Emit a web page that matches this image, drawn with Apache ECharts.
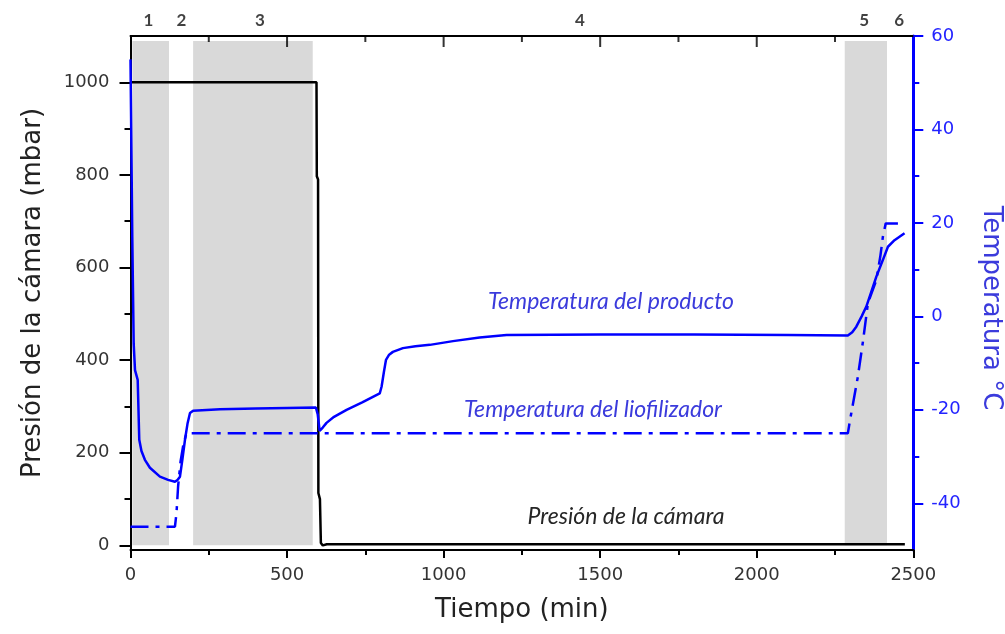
<!DOCTYPE html>
<html><head><meta charset="utf-8">
<script src="https://cdn.jsdelivr.net/npm/echarts@6/dist/echarts.min.js"></script>
<style>html,body{margin:0;padding:0;background:#fff}#c{width:1005px;height:634px}</style>
</head><body><div id="c"></div>
<script>
// ---- data ----
const pressureTime  = [0, 594, 595, 599, 600, 605, 608, 614, 627, 2473];
const pressureValue = [1000, 1000, 797, 790, 113, 100, 5, 0, 2.5, 2.5];

const productTime = [0, 1.6, 5.7, 10.2, 14.4, 23, 28, 35, 46, 62, 94, 120, 142, 150, 158, 166, 174, 182, 190, 200, 286, 400, 500, 592, 598, 604, 608, 614, 626, 650, 690, 740, 796, 802, 809, 816, 826, 838, 870, 910, 956, 1030, 1115, 1201, 1500, 1800, 2100, 2291, 2305, 2318, 2335, 2350, 2366, 2382, 2403, 2419, 2440, 2472];
const productTemp = [55, 55.3, 17, -5.9, -11.5, -13.6, -26.4, -28.8, -30.7, -32.4, -34.3, -35.0, -35.4, -35.0, -34.3, -30.5, -26.4, -23, -20.7, -20.2, -19.9, -19.7, -19.6, -19.5, -21, -24.5, -24.7, -23.8, -22.8, -21.5, -20.0, -18.4, -16.5, -15.0, -12, -9.3, -8.2, -7.6, -6.8, -6.4, -6.1, -5.3, -4.5, -4.0, -3.9, -3.9, -4.0, -4.1, -3.4, -2.2, 0, 2.1, 5.3, 8.5, 12.1, 14.9, 16.3, 17.8];

const condenserTime = [0, 142, 147, 152, 160, 170, 179, 2291, 2296, 2302, 2312, 2323, 2340, 2355, 2382, 2395, 2403, 2412, 2472];
const condenserTemp = [-45, -45, -42, -36.4, -31, -27, -25, -25, -23, -20.7, -17, -12.9, -5, 2.8, 7.8, 13, 17.1, 19.9, 19.9];

const shadedPhases   = [[6, 123], [200, 582], [2281, 2416]];
const phaseNames     = ['1', '2', '3', '4', '5', '6'];
const phaseLabelTime = [57, 163, 413, 1435, 2343, 2455];

const topMajorTicks   = [500, 1000, 1500, 2000];
const topMinorTicks   = [250, 750, 1250, 1750, 2250];
const leftTicks       = [0, 200, 400, 600, 800, 1000];
const leftMinorTicks  = [100, 300, 500, 700, 900];
const rightTicks      = [-40, -20, 0, 20, 40, 60];
const rightMinorTicks = [-30, -10, 10, 30, 50];

// ---- chart ----
const zip = (a, b) => a.map((v, i) => [v, b[i]]);
const FONT = 'DejaVu Sans';
const BLUE = '#0000ff';
const LEFT_MAX = 1100;
const plain = v => String(v);
const chart = echarts.init(document.getElementById('c'), null, {renderer: 'canvas'});

// inward ticks hanging from the top frame (small rect symbols placed on the frame)
const topTickSeries = (ticks, len) => ({
  type: 'scatter', xAxisIndex: 1, yAxisIndex: 0, silent: true, clip: false, z: 6,
  symbol: 'rect', symbolSize: [2, len], symbolOffset: [0, len / 2],
  itemStyle: {color: '#000'},
  data: ticks.map(t => [t, LEFT_MAX])
});

const option = {
  animation: false,
  backgroundColor: '#ffffff',
  grid: {left: 130.5, right: 91.7, top: 36, bottom: 84, containLabel: false, outerBoundsMode: 'none'},
  xAxis: [
    {
      type: 'value', position: 'bottom', min: 0, max: 2500, interval: 500,
      axisLine: {onZero: false, lineStyle: {color: '#000', width: 2}},
      axisTick: {show: true, length: 8, lineStyle: {color: '#000', width: 2}},
      minorTick: {show: true, splitNumber: 2, length: 5, lineStyle: {color: '#000', width: 2}},
      splitLine: {show: false},
      axisLabel: {formatter: plain, fontFamily: FONT, fontSize: 18, color: '#333', margin: 16},
      name: 'Tiempo (min)', nameLocation: 'middle', nameGap: 47,
      nameTextStyle: {fontFamily: FONT, fontSize: 26, color: '#222'}
    },
    {
      type: 'value', position: 'top', min: 0, max: 2500,
      axisLine: {show: true, onZero: false, lineStyle: {color: '#000', width: 2}},
      axisTick: {show: false}, axisLabel: {show: false}, splitLine: {show: false}
    }
  ],
  yAxis: [
    {
      type: 'value', position: 'left', min: -10, max: LEFT_MAX,
      axisLine: {show: true, onZero: false, lineStyle: {color: '#000', width: 2}},
      axisTick: {show: true, length: 11, customValues: leftTicks, lineStyle: {color: '#000', width: 2}},
      axisLabel: {customValues: leftTicks, formatter: plain, fontFamily: FONT, fontSize: 18, color: '#333', margin: 21},
      splitLine: {show: false},
      name: 'Presión de la cámara (mbar)', nameLocation: 'middle', nameGap: 84,
      nameTextStyle: {fontFamily: FONT, fontSize: 26, color: '#222'}
    },
    {
      type: 'value', position: 'right', min: -50, max: 60,
      axisLine: {show: true, onZero: false, lineStyle: {color: BLUE, width: 3}},
      axisTick: {show: true, length: 10, customValues: rightTicks, lineStyle: {color: BLUE, width: 2}},
      axisLabel: {customValues: rightTicks, formatter: plain, fontFamily: FONT, fontSize: 18, color: '#2323ff', margin: 18},
      splitLine: {show: false},
      name: 'Temperatura °C', nameLocation: 'middle', nameGap: 64, nameRotate: -90,
      nameTextStyle: {fontFamily: FONT, fontSize: 26, color: '#3b3bdc', padding: [0, 0, 0, 30]}
    },
    {
      type: 'value', position: 'left', min: -10, max: LEFT_MAX,
      axisLine: {show: false, onZero: false},
      axisTick: {show: true, length: 6, customValues: leftMinorTicks, lineStyle: {color: '#000', width: 2}},
      axisLabel: {show: false}, splitLine: {show: false}
    },
    {
      type: 'value', position: 'right', min: -50, max: 60,
      axisLine: {show: false, onZero: false},
      axisTick: {show: true, length: 6, customValues: rightMinorTicks, lineStyle: {color: BLUE, width: 2}},
      axisLabel: {show: false}, splitLine: {show: false}
    }
  ],
  series: [
    {
      name: 'Presión de la cámara', type: 'line', xAxisIndex: 0, yAxisIndex: 0,
      data: zip(pressureTime, pressureValue), showSymbol: false, symbol: 'none',
      lineStyle: {color: '#000', width: 2.5}, z: 3,
      markArea: {
        silent: true,
        itemStyle: {color: '#d9d9d9'},
        data: shadedPhases.map(p => [{xAxis: p[0], yAxis: 0}, {xAxis: p[1], yAxis: 1089}])
      }
    },
    {
      name: 'Temperatura del liofilizador', type: 'line', xAxisIndex: 0, yAxisIndex: 1,
      data: zip(condenserTime, condenserTemp), showSymbol: false, symbol: 'none',
      lineStyle: {color: BLUE, width: 2.5, type: [18, 7, 4, 7]}, z: 4
    },
    {
      name: 'Temperatura del producto', type: 'line', xAxisIndex: 0, yAxisIndex: 1,
      data: zip(productTime, productTemp), showSymbol: false, symbol: 'none',
      lineStyle: {color: BLUE, width: 2.5}, z: 5
    },
    topTickSeries(topMajorTicks, 11),
    topTickSeries(topMinorTicks, 6),
    {
      name: 'fases', type: 'scatter', xAxisIndex: 1, yAxisIndex: 0, silent: true, clip: false,
      symbolSize: 1, itemStyle: {color: 'rgba(0,0,0,0)'},
      data: phaseLabelTime.map((t, i) => ({value: [t, LEFT_MAX], name: phaseNames[i]})),
      label: {show: true, position: 'top', distance: 6, formatter: '{b}',
              fontFamily: 'Lato', fontWeight: 'bold', fontSize: 17, color: '#111'}
    }
  ],
  graphic: [
    {type: 'text', x: 611, y: 302, silent: true,
     style: {text: 'Temperatura del producto', align: 'center', verticalAlign: 'middle',
             font: 'italic 23px Lato', fill: '#3b3bdc'}},
    {type: 'text', x: 593, y: 410, silent: true,
     style: {text: 'Temperatura del liofilizador', align: 'center', verticalAlign: 'middle',
             font: 'italic 23px Lato', fill: '#3b3bdc'}},
    {type: 'text', x: 626, y: 517, silent: true,
     style: {text: 'Presión de la cámara', align: 'center', verticalAlign: 'middle',
             font: 'italic 23px Lato', fill: '#262626'}}
  ]
};
chart.setOption(option);
</script>
</body></html>
